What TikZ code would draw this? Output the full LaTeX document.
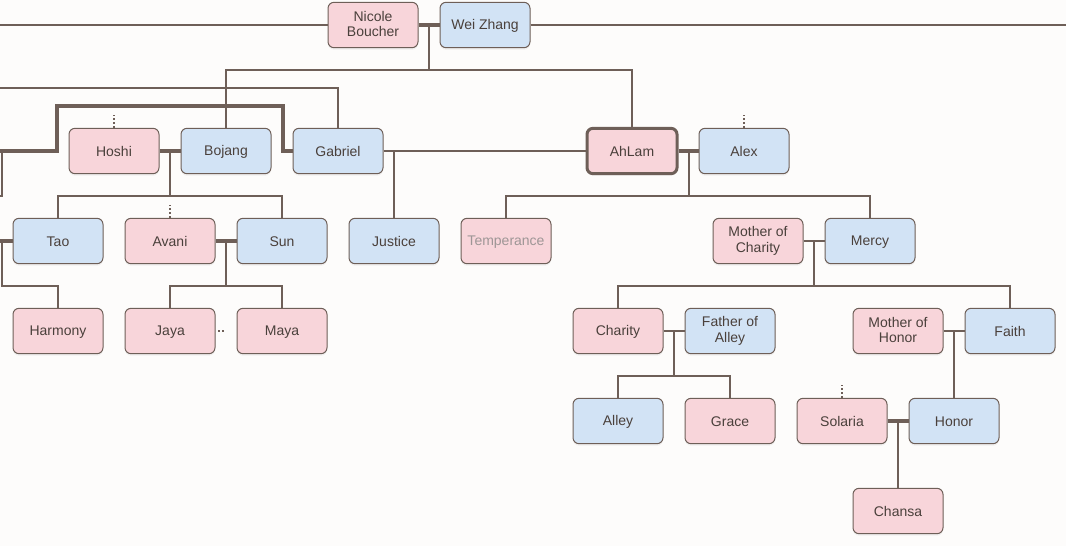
\documentclass[tikz,border=0pt]{standalone}
\usepackage{fontspec}
\setmainfont{Liberation Sans}
\usepackage{tikz}
\usetikzlibrary{calc,shadows}

\definecolor{bgcol}{HTML}{FDFCFB}
\definecolor{pinkfill}{HTML}{F8D5DA}
\definecolor{bluefill}{HTML}{D2E3F5}
\definecolor{edgecol}{HTML}{6E5F58}
\definecolor{textcol}{HTML}{4A403B}
\definecolor{fadedtext}{HTML}{9E9696}

\tikzset{
  person/.style={draw=edgecol, line width=0.75pt, rounded corners=4.5pt,
    minimum width=67.5pt, minimum height=34pt, inner sep=1pt, align=center,
    text=textcol, font=\fontsize{10.5}{11.5}\selectfont,
    execute at begin node=\rule{0pt}{9.5pt},
    execute at end node=\rule[-2pt]{0pt}{2pt},
    drop shadow={shadow xshift=0pt, shadow yshift=-1.5pt, opacity=0.10}},
  pinkbox/.style={person, fill=pinkfill},
  bluebox/.style={person, fill=bluefill},
  famline/.style={draw=edgecol, line width=1.5pt},
  coupleline/.style={draw=edgecol, line width=3pt},
  dotstub/.style={draw=edgecol, line width=1.5pt, dash pattern=on 1.5pt off 1.5pt},
}

\begin{document}
\begin{tikzpicture}[x=0.75pt,y=-0.75pt]
    \useasboundingbox (0,0) rectangle (1066,546);
    \fill[bgcol] (0,0) rectangle (1066,546);
    % Generation 1
    \node[pinkbox] (nicole) at (373,25) {Nicole\\Boucher};
    \node[bluebox] (weizhang) at (485,25) {Wei Zhang};
    % Generation 2
    \node[pinkbox] (hoshi) at (114,151) {Hoshi};
    \node[bluebox] (bojang) at (226,151) {Bojang};
    \node[bluebox] (gabriel) at (338,151) {Gabriel};
    \node[pinkbox, line width=2.25pt] (ahlam) at (632,151) {AhLam};
    \node[bluebox] (alex) at (744,151) {Alex};
    % Generation 3
    \node[bluebox] (tao) at (58,241) {Tao};
    \node[pinkbox] (avani) at (170,241) {Avani};
    \node[bluebox] (sun) at (282,241) {Sun};
    \node[bluebox] (justice) at (394,241) {Justice};
    \node[pinkbox, text=fadedtext] (temperance) at (506,241) {Temperance};
    \node[pinkbox] (mothercharity) at (758,241) {Mother of\\Charity};
    \node[bluebox] (mercy) at (870,241) {Mercy};
    % Generation 4
    \node[pinkbox] (harmony) at (58,331) {Harmony};
    \node[pinkbox] (jaya) at (170,331) {Jaya};
    \node[pinkbox] (maya) at (282,331) {Maya};
    \node[pinkbox] (charity) at (618,331) {Charity};
    \node[bluebox] (fatheralley) at (730,331) {Father of\\Alley};
    \node[pinkbox] (motherhonor) at (898,331) {Mother of\\Honor};
    \node[bluebox] (faith) at (1010,331) {Faith};
    % Generation 5
    \node[bluebox] (alley) at (618,421) {Alley};
    \node[pinkbox] (grace) at (730,421) {Grace};
    \node[pinkbox] (solaria) at (842,421) {Solaria};
    \node[bluebox] (honor) at (954,421) {Honor};
    % Generation 6
    \node[pinkbox] (chansa) at (898,511) {Chansa};
    %
    % Lines leaving the picture:
    \coordinate (edgeW1) at (0,25);
    \coordinate (edgeE1) at (1066,25);
    \coordinate (edgeW2) at (0,88);
    \coordinate (edgeW3) at (0,151);
    \coordinate (edgeW4) at (2,151);
    \coordinate (edgeW5) at (0,196);
    \coordinate (edgeW6) at (0,241);
    \coordinate (edgeW7) at (2,241);
    \draw[famline] (edgeW1) -- (nicole);
    \draw[famline] (weizhang) -- (edgeE1);
    \draw[famline] (edgeW2) -| (gabriel.north);
    \draw[coupleline] (edgeW3) -| (57,106) -| (283,151) -- (gabriel.west);
    \draw[famline] (edgeW4) |- (edgeW5);
    \draw[coupleline] (edgeW6) -- (tao);
    \draw[famline] (edgeW7) -- ++(0,45) -| (harmony.north);
    %
    % Nicole Boucher + Wei Zhang
    \draw[coupleline] (nicole) -- (weizhang);
    \draw[famline] ($(nicole.east)!.5!(weizhang.west)$) -- ++(0,45) coordinate (nwbus);
    \draw[famline] (bojang.north) |- (nwbus) -| (ahlam.north);
    % Hoshi + Bojang
    \draw[dotstub] (hoshi.north) -- ++(0,-13);
    \draw[coupleline] (hoshi) -- (bojang);
    \draw[famline] ($(hoshi.east)!.5!(bojang.west)$) -- ++(0,45) coordinate (hbbus);
    \draw[famline] (tao.north) |- (hbbus) -| (sun.north);
    % Avani + Sun
    \draw[dotstub] (avani.north) -- ++(0,-13);
    \draw[coupleline] (avani) -- (sun);
    \draw[famline] ($(avani.east)!.5!(sun.west)$) -- ++(0,45) coordinate (asbus);
    \draw[famline] (jaya.north) |- (asbus) -| (maya.north);
    \draw[dotstub] ($(jaya.east)!.5!(maya.west)+(-8,0)$) -- ++(6,0);
    % Gabriel + AhLam
    \draw[famline] (gabriel) -- (ahlam);
    \draw[famline] (justice.north) |- (gabriel.east);
    % AhLam + Alex
    \draw[dotstub] (alex.north) -- ++(0,-13);
    \draw[coupleline] (ahlam) -- (alex);
    \draw[famline] ($(ahlam.east)!.5!(alex.west)$) -- ++(0,45) coordinate (aabus);
    \draw[famline] (temperance.north) |- (aabus) -| (mercy.north);
    % Mother of Charity + Mercy
    \draw[famline] (mothercharity) -- (mercy);
    \draw[famline] ($(mothercharity.east)!.5!(mercy.west)$) -- ++(0,45) coordinate (mmbus);
    \draw[famline] (charity.north) |- (mmbus) -| (faith.north);
    % Charity + Father of Alley
    \draw[famline] (charity) -- (fatheralley);
    \draw[famline] ($(charity.east)!.5!(fatheralley.west)$) -- ++(0,45) coordinate (cfbus);
    \draw[famline] (alley.north) |- (cfbus) -| (grace.north);
    % Mother of Honor + Faith
    \draw[famline] (motherhonor) -- (faith);
    \draw[famline] ($(motherhonor.east)!.5!(faith.west)$) -- (honor.north);
    % Solaria + Honor
    \draw[dotstub] (solaria.north) -- ++(0,-13);
    \draw[coupleline] (solaria) -- (honor);
    \draw[famline] ($(solaria.east)!.5!(honor.west)$) -- (chansa.north);
\end{tikzpicture}
\end{document}
